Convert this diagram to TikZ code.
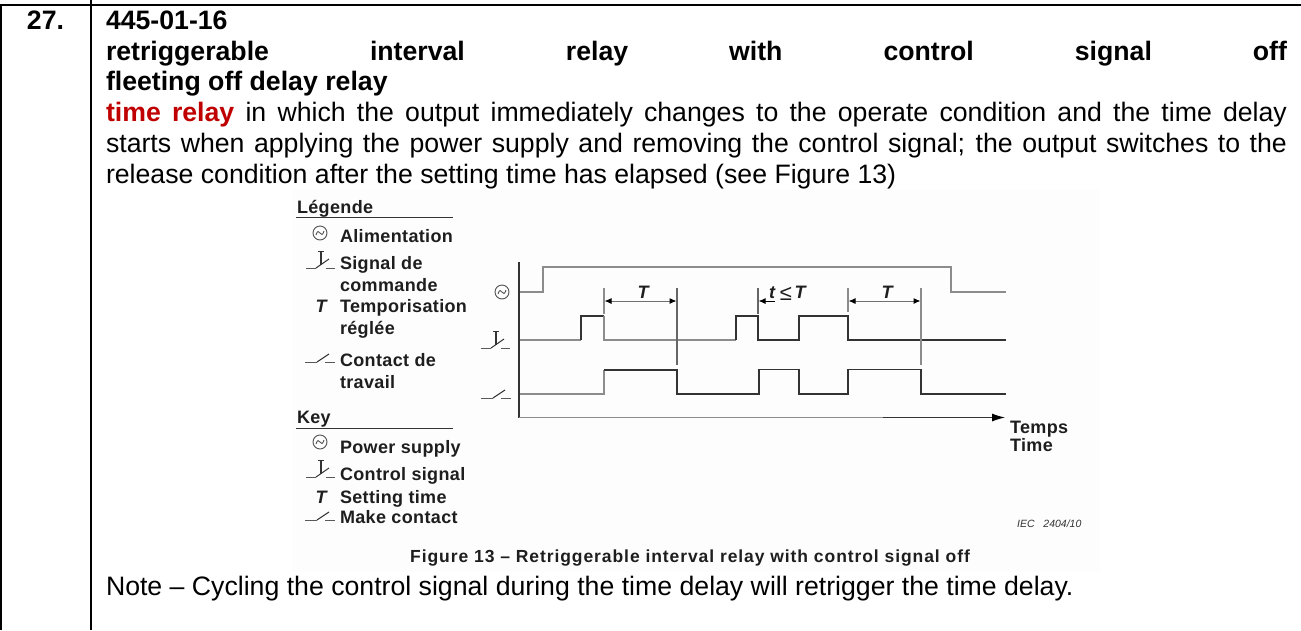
\documentclass[tikz,border=0pt]{standalone}
\usepackage{fontspec}
\setmainfont{Liberation Sans}
\newfontfamily\legfont[LetterSpace=2.0]{Liberation Sans}
\newfontfamily\capfont[LetterSpace=5.3]{Liberation Sans}
\usetikzlibrary{arrows.meta}
\definecolor{figbg}{HTML}{FCFDFC}
\definecolor{relayred}{HTML}{C00000}
\definecolor{inkdark}{HTML}{333333}
\definecolor{inkgray}{HTML}{8C8C8C}
\definecolor{legink}{HTML}{1E1E1E}
\tikzset{
  x=1pt,y=-1pt,
  rule/.style={line width=2pt,black},
  body/.style={anchor=base west,inner sep=0pt,outer sep=0pt,font=\fontsize{26.67}{30}\selectfont,text=black},
  bodybold/.style={body,font=\fontsize{26.67}{30}\selectfont\bfseries},
  leg/.style={anchor=base west,inner sep=0pt,outer sep=0pt,font=\fontsize{18}{20}\legfont\bfseries,text=legink},
  tee/.style={anchor=base,inner sep=0pt,outer sep=0pt,font=\fontsize{18}{20}\selectfont\bfseries\itshape,text=legink},
  legrule/.style={line width=1pt,inkdark},
  dark/.style={line width=1.1pt,inkdark,line join=miter},
  gray/.style={line width=1.3pt,inkgray,line join=miter},
  tick/.style={line width=1.1pt,inkdark!75},
  dim/.style={line width=1pt,inkgray!80!black,{Latex[length=7pt,width=6pt,color=black]}-{Latex[length=7pt,width=6pt,color=black]}},
  dimone/.style={line width=1pt,black,{Latex[length=7pt,width=6pt]}-},
  sym/.style={line width=1pt,inkdark},
  acsym/.pic={
    \draw[line width=.9pt,inkdark!85] (0,0) circle[radius=7];
    \draw[line width=.9pt,inkdark!85] (-4,2) .. controls (-1,-8) and (1,8) .. (4,-2);
  },
  ctlsym/.pic={
    \draw[sym,gray!70!black] (-15,0) -- (-5,0);
    \draw[sym] (-5,0) -- (8,-9);
    \draw[sym,gray!70!black] (5,0) -- (14,0);
    \draw[line width=1.2pt,inkdark] (0,-17) -- (0,-3);
    \draw[sym] (-3,-17) -- (3,-17);
  },
  makesym/.pic={
    \draw[sym,gray!70!black] (-15,0) -- (-3,0);
    \draw[sym] (-3,0) -- (9,-8);
    \draw[sym,gray!70!black] (5,0) -- (15,0);
  }
}
\begin{document}
\begin{tikzpicture}
\useasboundingbox (0,0) rectangle (1301,630);
\fill[white] (0,0) rectangle (1301,630);
\fill[figbg] (292,190) rectangle (1100,572);
% table rules
\coordinate (tl) at (0,5); \coordinate (tr) at (1301,5);
\coordinate (lt) at (1,5); \coordinate (lb) at (1,630);
\coordinate (ct) at (91,0); \coordinate (cb) at (91,630);
\draw[rule] (tl) -- (tr);
\draw[rule] (lt) -- (lb);
\draw[rule] (ct) -- (cb);
% body text
\node[bodybold] (num) at (27,29.3) {27.};
\node[bodybold] (l1) at (106,29.3) {445-01-16};
\node[bodybold] (l2) at (106,60) {\makebox[1181pt][s]{retriggerable interval relay with control signal off}};
\node[bodybold] (l3) at (106,90.7) {fleeting off delay relay};
\node[body] (l4) at (106,121.7) {\makebox[1181pt][s]{\textcolor{relayred}{\bfseries time relay} in which the output immediately changes to the operate condition and the time delay}};
\node[body] (l5) at (106,152.3) {\makebox[1181pt][s]{starts when applying the power supply and removing the control signal; the output switches to the}};
\node[body] (l6) at (106,183) {release condition after the setting time has elapsed (see Figure 13)};
\node[body] (note) at (106,595) {Note – Cycling the control signal during the time delay will retrigger the time delay.};
% legend
\node[leg] (lgd) at (297,213) {Légende};
\coordinate (lga) at (296,217.5); \coordinate (lgb) at (453,217.5);
\draw[legrule] (lga) -- (lgb);
\pic at (320,233) {acsym};
\node[leg] (ali) at (340,242) {Alimentation};
\pic at (321,268) {ctlsym};
\node[leg] (sig) at (340,269) {Signal de};
\node[leg] (com) at (340,291) {commande};
\node[tee] (tleg) at (321,312) {T};
\node[leg] (tem) at (340,312) {Temporisation};
\node[leg] (reg) at (340,334) {réglée};
\pic at (320,362) {makesym};
\node[leg] (con) at (340,366) {Contact de};
\node[leg] (tra) at (340,388) {travail};
\node[leg] (key) at (297,423) {Key};
\coordinate (kya) at (296,428); \coordinate (kyb) at (453,428);
\draw[legrule] (kya) -- (kyb);
\pic at (320,442) {acsym};
\node[leg] (pow) at (340,453) {Power supply};
\pic at (321,477) {ctlsym};
\node[leg] (cts) at (340,480) {Control signal};
\node[tee] (tkey) at (321,503) {T};
\node[leg] (set) at (340,503) {Setting time};
\pic at (320,520) {makesym};
\node[leg] (mak) at (340,523) {Make contact};
% diagram symbols
\pic at (502,292) {acsym};
\pic at (496,348) {ctlsym};
\pic at (496,398) {makesym};
% axes
\coordinate (ax0) at (519,262); \coordinate (ax1) at (519,417.5);
\coordinate (ax2) at (883,417.5); \coordinate (ax3) at (1005,417.5);
\draw[line width=1.2pt,inkdark] (ax0) -- (ax1);
\draw[gray] (ax1) -- (ax2);
\draw[line width=1pt,inkdark,-{Latex[length=13pt,width=8pt,color=black]}] (ax2) -- (ax3);
% traces
\draw[gray] (520,292) -- (543,292) -- (543,267) -- (951,267) -- (951,292) -- (1006,292);
\draw[gray] (520,340) -- (581,340);
\draw[dark] (581,340) -- (581,316) -- (604,316);
\draw[gray] (604,316) -- (604,340) -- (736,340);
\draw[dark] (736,340) -- (736,316) -- (758,316) -- (758,340) -- (799,340) -- (799,316) -- (848,316) -- (848,340) -- (1006,340);
\draw[gray] (520,394) -- (604,394) -- (604,370);
\draw[dark] (604,370) -- (677,370) -- (677,394) -- (759,394) -- (759,369.5) -- (799,369.5) -- (799,394) -- (848,394) -- (848,369.5) -- (921,369.5) -- (921,394) -- (1006,394);
% time marks
\coordinate (m1a) at (604,288); \coordinate (m1b) at (604,314);
\coordinate (m2a) at (677,288); \coordinate (m2b) at (677,365);
\coordinate (m3a) at (758,288); \coordinate (m3b) at (758,314);
\coordinate (m4a) at (848,288); \coordinate (m4b) at (848,312);
\coordinate (m5a) at (921,288); \coordinate (m5b) at (921,365);
\draw[tick,inkgray] (m1a) -- (m1b);
\draw[tick] (m2a) -- (m2b);
\draw[tick] (m3a) -- (m3b);
\draw[tick,inkgray] (m4a) -- (m4b);
\draw[tick,inkgray] (m5a) -- (m5b);
\coordinate (d1a) at (604.5,301); \coordinate (d1b) at (676.5,301);
\coordinate (d2a) at (848.5,301); \coordinate (d2b) at (920.5,301);
\coordinate (d3a) at (758.5,301); \coordinate (d3b) at (775,301);
\draw[dim] (d1a) -- (d1b);
\draw[dim] (d2a) -- (d2b);
\draw[dimone] (d3a) -- (d3b);
\node[tee] (t1) at (643,298) {T};
\node[tee] (t2) at (887,298) {T};
\node[tee] (t3) at (772,298) {t};
\node[anchor=base,inner sep=0pt,font=\fontsize{22}{24}\selectfont,text=legink] (le) at (786,300) {≤};
\node[tee] (t4) at (800,298) {T};
% time label
\node[leg] (tps) at (1010,433) {Temps};
\node[leg] (tim) at (1010,451) {Time};
\node[anchor=base west,inner sep=0pt,font=\fontsize{10.5}{12}\selectfont\itshape,text=inkdark] (iec) at (1017,527) {IEC\ \ \ 2404/10};
\node[anchor=base west,inner sep=0pt,font=\fontsize{17.5}{20}\capfont\bfseries,text=legink] (cap) at (410,562.5) {Figure 13 – Retriggerable interval relay with control signal off};
\end{tikzpicture}
\end{document}
